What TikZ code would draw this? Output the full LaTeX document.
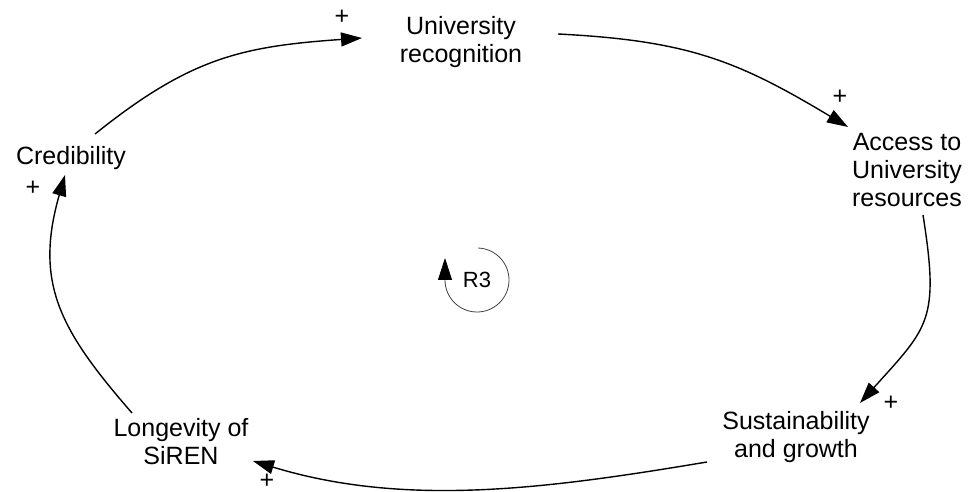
\documentclass[tikz,border=0pt]{standalone}
\usepackage{fontspec}
\setmainfont{Liberation Sans}
\usetikzlibrary{arrows.meta}
\begin{document}
\begin{tikzpicture}[x=1pt,y=1pt,
  lbl/.style={font=\fontsize{25}{28}\selectfont, inner sep=0pt, align=center, anchor=base},
  pol/.style={font=\fontsize{25}{28}\selectfont, inner sep=0pt},
  link/.style={line width=1.4pt, -{Triangle[length=21pt,width=14pt]}},
  loopsym/.style={line width=0.8pt, draw=black!75, -{Triangle[length=22pt,width=14pt,color=black]}}]
\useasboundingbox (0,0) rectangle (977,492);
% variables (base = baseline of the last line)
\node[lbl] (recog)   at (461,429) {University\\recognition};
\node[lbl] (access)  at (907,285) {Access to\\University\\resources};
\node[lbl] (sustain) at (796,34)  {Sustainability\\and growth};
\node[lbl] (longev)  at (181,27)  {Longevity of\\SiREN};
\node[lbl] (cred)    at (71,327)  {Credibility};
% causal links
\draw[link] ([shift={(24,31)}]cred.base)
  to[out=38.7,in=184,out distance=122pt,in distance=121pt] ([shift={(-99,25)}]recog.base);
\draw[link] ([shift={(97,29)}]recog.base)
  to[out=-2.9,in=149,out distance=130pt,in distance=129pt] ([shift={(-59,80)}]access.base);
\draw[link] ([shift={(16,-8)}]access.base)
  to[out=-81,in=48,out distance=107pt,in distance=102pt] ([shift={(64,55)}]sustain.base);
\draw[link] ([shift={(-89,-4)}]sustain.base)
  to[out=189.5,in=-17,out distance=161pt,in distance=160pt] ([shift={(72,4)}]longev.base);
\draw[link] ([shift={(-49,52)}]longev.base)
  to[out=131,in=254,out distance=109pt,in distance=113pt] ([shift={(-6,-10)}]cred.base);
% polarities
\node[pol] (p1) at (342,475) {+};
\node[pol] (p2) at (840,395) {+};
\node[pol] (p3) at (891,89)  {+};
\node[pol] (p4) at (267,11)  {+};
\node[pol] (p5) at (33,304)  {+};
% loop identifier
\node[font=\fontsize{22}{26}\selectfont, inner sep=0pt] (r3) at (477,212) {R3};
\draw[loopsym] (r3.center) ++(88:32) arc[start angle=88,end angle=-180,radius=32] -- ++(0,22);
\end{tikzpicture}
\end{document}
